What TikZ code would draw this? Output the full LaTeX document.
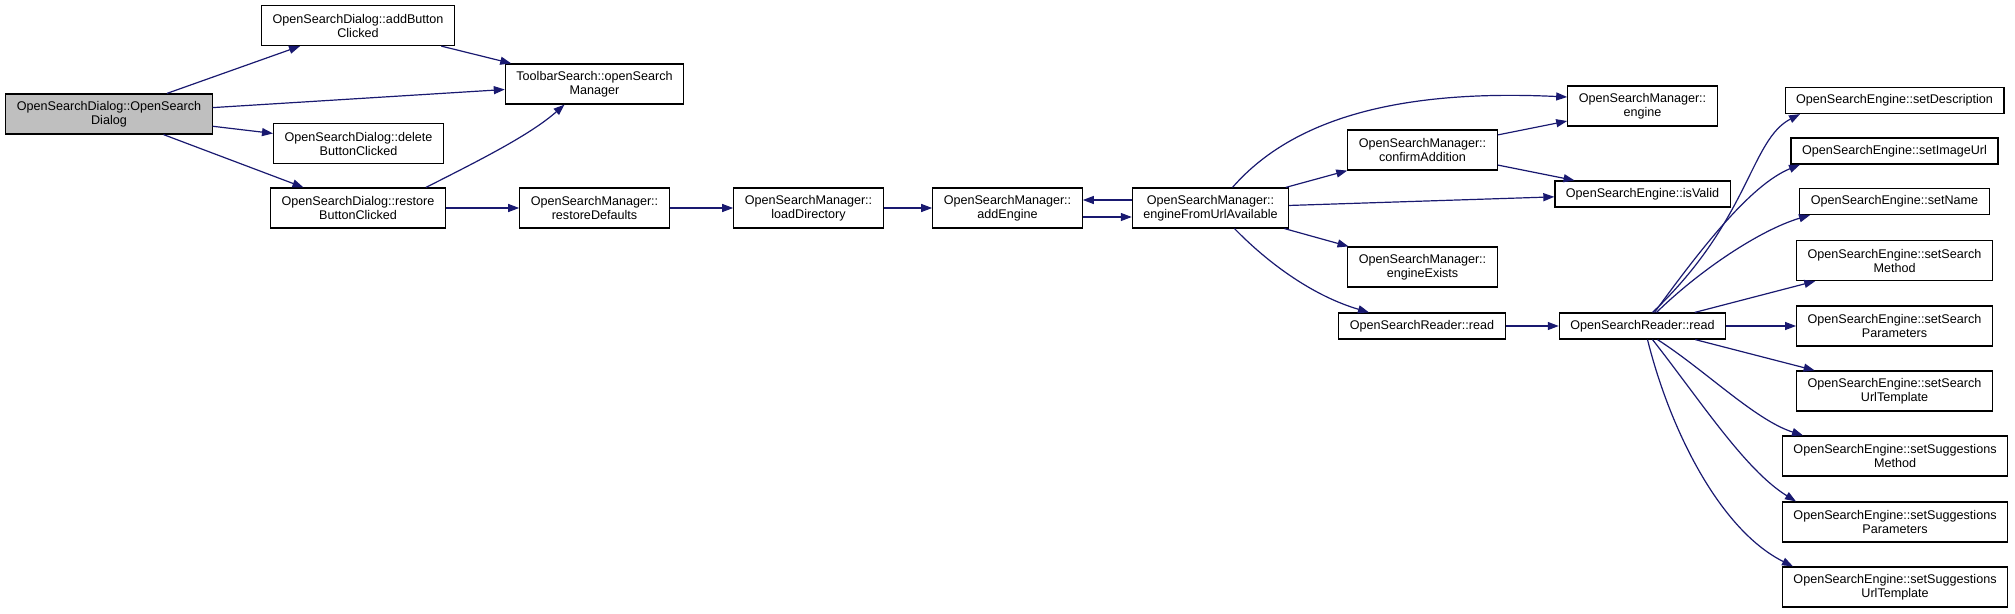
\documentclass[tikz,border=0pt]{standalone}
\usepackage{fontspec}
\setmainfont{Liberation Sans}
\usetikzlibrary{arrows.meta}
\definecolor{edgeblue}{HTML}{191970}
\definecolor{rootgray}{HTML}{BFBFBF}

\begin{document}
\begin{tikzpicture}[x=1pt,y=-1pt,
  fn/.style={draw=black,line width=1.2pt,fill=white,align=center,inner xsep=11pt,inner ysep=0pt,
    minimum height=26pt,font=\fontsize{12.6}{14}\selectfont},
  fntwo/.style={fn,minimum height=40pt},
  call/.style={draw=edgeblue,line width=1.2pt,-{Triangle[length=11pt,width=8pt]}}]
\useasboundingbox (0,0) rectangle (2015,613);
\node[fntwo,fill=rootgray] (osd) at (109,114) {OpenSearchDialog::OpenSearch\\Dialog};
\node[fntwo] (addb) at (358,25.5) {OpenSearchDialog::addButton\\Clicked};
\node[fntwo] (tbs) at (594.5,84) {ToolbarSearch::openSearch\\Manager};
\node[fntwo] (delb) at (358.5,143.5) {OpenSearchDialog::delete\\ButtonClicked};
\node[fntwo] (rstb) at (358,208) {OpenSearchDialog::restore\\ButtonClicked};
\node[fntwo] (rstd) at (594.5,208) {OpenSearchManager::\\restoreDefaults};
\node[fntwo] (lddir) at (808.5,208) {OpenSearchManager::\\loadDirectory};
\node[fntwo] (adde) at (1007.5,208) {OpenSearchManager::\\addEngine};
\node[fntwo] (efua) at (1210.5,208) {OpenSearchManager::\\engineFromUrlAvailable};
\node[fntwo] (eng) at (1642.5,106) {OpenSearchManager::\\engine};
\node[fntwo] (conf) at (1422.5,150) {OpenSearchManager::\\confirmAddition};
\node[fn] (isv) at (1642.5,194) {OpenSearchEngine::isValid};
\node[fntwo] (eex) at (1422.5,267) {OpenSearchManager::\\engineExists};
\node[fn] (rd1) at (1422,326) {OpenSearchReader::read};
\node[fn] (rd2) at (1642.5,326) {OpenSearchReader::read};
\node[fn] (sdesc) at (1894.5,100.5) {OpenSearchEngine::setDescription};
\node[fn] (simg) at (1894.5,151) {OpenSearchEngine::setImageUrl};
\node[fn] (sname) at (1894.5,201.5) {OpenSearchEngine::setName};
\node[fntwo] (smeth) at (1894.5,260.5) {OpenSearchEngine::setSearch\\Method};
\node[fntwo] (spar) at (1894.5,326) {OpenSearchEngine::setSearch\\Parameters};
\node[fntwo] (surl) at (1894.5,391) {OpenSearchEngine::setSearch\\UrlTemplate};
\node[fntwo] (sgmeth) at (1895,456) {OpenSearchEngine::setSuggestions\\Method};
\node[fntwo] (sgpar) at (1895,522) {OpenSearchEngine::setSuggestions\\Parameters};
\node[fntwo] (sgurl) at (1895,587) {OpenSearchEngine::setSuggestions\\UrlTemplate};
\draw[call] (osd) -- (addb);
\draw[call] (osd) -- (tbs);
\draw[call] (osd) -- (delb);
\draw[call] (osd) -- (rstb);
\draw[call] (addb) -- (tbs);
\draw[call] ([xshift=68pt]rstb.north) .. controls (480,160) and (530,135) .. ([xshift=-30pt]tbs.south);
\draw[call] (rstb) -- (rstd);
\draw[call] (rstd) -- (lddir);
\draw[call] (lddir) -- (adde);
\draw[call] ([yshift=8pt]efua.west) -- ([yshift=8pt]adde.east);
\draw[call] ([yshift=-9pt]adde.east) -- ([yshift=-9pt]efua.west);
\draw[call] ([xshift=22pt]efua.north) .. controls (1300,110) and (1420,90) .. ([yshift=9pt]eng.west);
\draw[call] (efua) -- (conf);
\draw[call] (efua) -- (isv);
\draw[call] (efua) -- (eex);
\draw[call] ([xshift=24pt]efua.south) .. controls (1265,260) and (1310,295) .. ([xshift=-53pt]rd1.north);
\draw[call] (conf) -- (eng);
\draw[call] (conf) -- (isv);
\draw[call] (rd1) -- (rd2);
\draw[call] ([xshift=10pt]rd2.north) .. controls (1750,220) and (1750,140) .. ([xshift=-94.5pt]sdesc.south);
\draw[call] ([xshift=12pt]rd2.north) .. controls (1700,250) and (1750,185) .. ([xshift=-94.5pt]simg.south);
\draw[call] ([xshift=14pt]rd2.north) .. controls (1700,270) and (1760,230) .. ([xshift=-84.5pt]sname.south);
\draw[call] (rd2) -- (smeth);
\draw[call] (rd2) -- (spar);
\draw[call] (rd2) -- (surl);
\draw[call] ([xshift=15pt]rd2.south) .. controls (1705,370) and (1755,420) .. ([xshift=-92pt]sgmeth.north);
\draw[call] ([xshift=10pt]rd2.south) .. controls (1700,400) and (1745,470) .. ([xshift=-99pt]sgpar.north);
\draw[call] ([xshift=5pt]rd2.south) .. controls (1670,430) and (1720,530) .. ([xshift=-102pt]sgurl.north);
\end{tikzpicture}
\end{document}
